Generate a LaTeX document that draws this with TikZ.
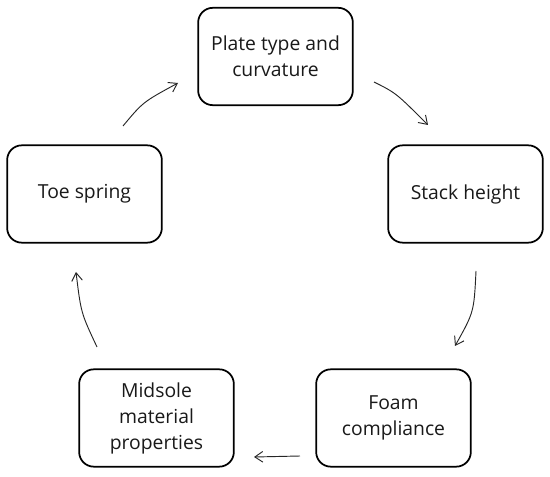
\documentclass[tikz,border=0pt]{standalone}
\usepackage{fontspec}
\setmainfont{Open Sans}
\usetikzlibrary{arrows.meta}

\tikzset{
  factor/.style={draw, line width=1.3pt, rounded corners=11pt,
    minimum width=116pt, minimum height=73pt, align=center,
    font=\fontsize{14.5}{19.5}\selectfont, text=black!90},
  cyc/.style={draw=black!85, line width=0.7pt,
    -{Straight Barb[length=6pt,width=8pt]}}
}

\begin{document}
\begin{tikzpicture}[x=0.75pt,y=-0.75pt]

% Frame
\useasboundingbox (0,0) rectangle (550,477);

% Factors
\node[factor] (plate) at (275.5,56.5) {Plate type and\\curvature};
\node[factor] (stack) at (465.5,194) {Stack height};
\node[factor] (foam) at (393.5,418) {Foam\\compliance};
\node[factor] (midsole) at (156.5,418) {Midsole\\material\\properties};
\node[factor] (toe) at (84.5,194) {Toe spring};

% Arrow ends
\coordinate (a1) at (374,82);  \coordinate (b1) at (428,125);
\coordinate (a2) at (476,271); \coordinate (b2) at (455,346);
\coordinate (a3) at (300,456); \coordinate (b3) at (254,457);
\coordinate (a4) at (97,347);  \coordinate (b4) at (76,272);
\coordinate (a5) at (123,126); \coordinate (b5) at (178,83);

% Cycle
\draw[cyc] (a1) .. controls (396,93) .. (b1);
\draw[cyc] (a2) .. controls (474,312) .. (b2);
\draw[cyc] (a3) -- (b3);
\draw[cyc] (a4) .. controls (81,313) .. (b4);
\draw[cyc] (a5) .. controls (143,102) .. (b5);

\end{tikzpicture}
\end{document}
